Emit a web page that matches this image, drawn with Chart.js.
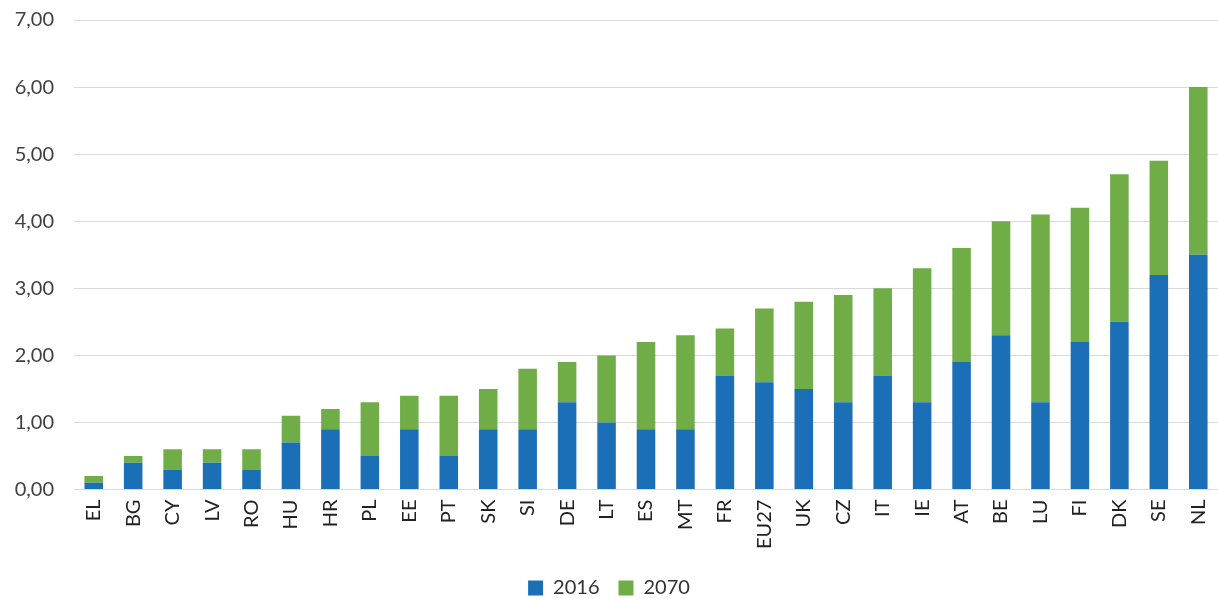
<!DOCTYPE html>
<html lang="en">
<head>
<meta charset="UTF-8">
<title>2016 / 2070</title>
<style>
  html, body { margin: 0; padding: 0; background: #fff; }
  #wrap { width: 1218px; height: 599px; }
</style>
</head>
<body>
<div id="wrap"><canvas id="chart"></canvas></div>
<script src="https://cdn.jsdelivr.net/npm/chart.js"></script>
<script>
// countries, sorted by the stacked total
const countries = ['EL', 'BG', 'CY', 'LV', 'RO', 'HU', 'HR', 'PL', 'EE', 'PT', 'SK', 'SI', 'DE', 'LT', 'ES',
  'MT', 'FR', 'EU27', 'UK', 'CZ', 'IT', 'IE', 'AT', 'BE', 'LU', 'FI', 'DK', 'SE', 'NL'];

// lower segment (2016)
const values2016 = [0.1, 0.4, 0.3, 0.4, 0.3, 0.7, 0.9, 0.5, 0.9, 0.5, 0.9, 0.9, 1.3, 1.0, 0.9,
  0.9, 1.7, 1.6, 1.5, 1.3, 1.7, 1.3, 1.9, 2.3, 1.3, 2.2, 2.5, 3.2, 3.5];

// upper segment (2070), stacked on top of 2016
const values2070 = [0.1, 0.1, 0.3, 0.2, 0.3, 0.4, 0.3, 0.8, 0.5, 0.9, 0.6, 0.9, 0.6, 1.0, 1.3,
  1.4, 0.7, 1.1, 1.3, 1.6, 1.3, 2.0, 1.7, 1.7, 2.8, 2.0, 2.2, 1.7, 2.5];

const yMax = 7;
const yStep = 1;

const font = { family: 'Lato, Open Sans, sans-serif', size: 20 };

new Chart(document.getElementById('chart'), {
  type: 'bar',
  data: {
    labels: countries,
    datasets: [
      { label: '2016', data: values2016, backgroundColor: '#1a6fb7' },
      { label: '2070', data: values2070, backgroundColor: '#70ad47' }
    ]
  },
  options: {
    responsive: true,
    maintainAspectRatio: false,
    animation: false,
    layout: { padding: { top: 20, right: 0, left: 0, bottom: -9 } },
    datasets: { bar: { categoryPercentage: 1, barPercentage: 0.47 } },
    plugins: {
      legend: {
        position: 'bottom',
        labels: { font: font, color: '#333', boxWidth: 15, boxHeight: 15, padding: 19 }
      },
      tooltip: { enabled: false }
    },
    scales: {
      x: {
        stacked: true,
        grid: { display: false, drawTicks: false },
        border: { display: false },
        ticks: { font: font, color: '#222', minRotation: 90, maxRotation: 90, padding: 10, autoSkip: false },
        afterFit: scale => { scale.paddingLeft = 0; scale.paddingRight = 0; }
      },
      y: {
        stacked: true,
        min: 0,
        max: yMax,
        grid: { color: '#d9d9d9', lineWidth: 1, drawTicks: false },
        border: { display: false },
        ticks: {
          stepSize: yStep,
          font: font,
          color: '#404040',
          padding: 20,
          callback: v => v.toFixed(2).replace('.', ',')
        },
        afterFit: scale => {
          scale.width = 74;
          scale.paddingTop = 0;
          scale.paddingBottom = 0;
        }
      }
    }
  }
});
</script>
</body>
</html>
